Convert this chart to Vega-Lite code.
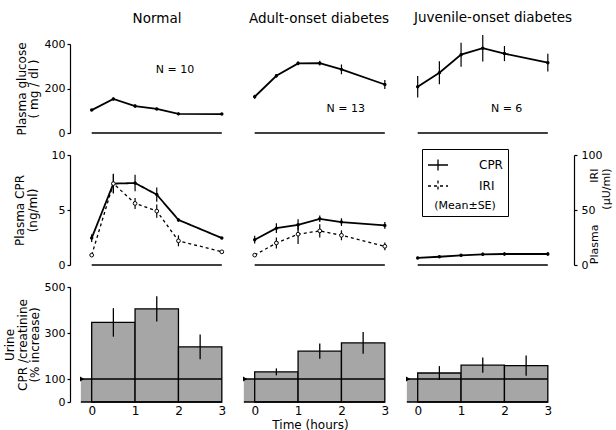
{
 "$schema": "https://vega.github.io/schema/vega-lite/v6.json",
 "autosize": "none",
 "padding": {"left": 70, "top": 44, "right": 546, "bottom": 386},
 "background": "white",
 "config": {
  "font": "DejaVu Sans",
  "view": {"stroke": null},
  "axis": {"grid": false, "domainColor": "black", "tickColor": "black", "labelColor": "black", "titleColor": "black", "labelFontSize": 11, "titleFontSize": 12, "titleFontWeight": "normal", "tickSize": 3, "domainWidth": 1.2, "tickWidth": 1.2, "labelPadding": 2, "titlePadding": 3.5, "titleLineHeight": 12.5, "labelOverlap": false},
  "title": {"fontSize": 13.5, "fontWeight": "normal", "color": "black", "anchor": "middle"}
 },
 "datasets": {
  "glucose": [
   {"g":"Normal","t":0,"v":103,"se":4},{"g":"Normal","t":0.5,"v":153,"se":6},{"g":"Normal","t":1,"v":121,"se":7},{"g":"Normal","t":1.5,"v":108,"se":5},{"g":"Normal","t":2,"v":86,"se":6},{"g":"Normal","t":3,"v":85,"se":4},
   {"g":"Adult","t":0,"v":163,"se":9},{"g":"Adult","t":0.5,"v":257,"se":8},{"g":"Adult","t":1,"v":313,"se":8},{"g":"Adult","t":1.5,"v":314,"se":11},{"g":"Adult","t":2,"v":286,"se":22},{"g":"Adult","t":3,"v":218,"se":20},
   {"g":"Juvenile","t":0,"v":208,"se":48},{"g":"Juvenile","t":0.5,"v":271,"se":52},{"g":"Juvenile","t":1,"v":352,"se":54},{"g":"Juvenile","t":1.5,"v":381,"se":60},{"g":"Juvenile","t":2,"v":357,"se":34},{"g":"Juvenile","t":3,"v":316,"se":40}
  ],
  "cpr": [
   {"g":"Normal","t":0,"v":2.45,"se":0.35},{"g":"Normal","t":0.5,"v":7.4,"se":0.85},{"g":"Normal","t":1,"v":7.45,"se":0.75},{"g":"Normal","t":1.5,"v":6.4,"se":0.65},{"g":"Normal","t":2,"v":4.1,"se":0.15},{"g":"Normal","t":3,"v":2.45,"se":0.1},
   {"g":"Adult","t":0,"v":2.3,"se":0.35},{"g":"Adult","t":0.5,"v":3.35,"se":0.45},{"g":"Adult","t":1,"v":3.65,"se":0.5},{"g":"Adult","t":1.5,"v":4.2,"se":0.3},{"g":"Adult","t":2,"v":3.9,"se":0.35},{"g":"Adult","t":3,"v":3.6,"se":0.3},
   {"g":"Juvenile","t":0,"v":0.64,"se":0.1},{"g":"Juvenile","t":0.5,"v":0.75,"se":0.1},{"g":"Juvenile","t":1,"v":0.88,"se":0.12},{"g":"Juvenile","t":1.5,"v":0.97,"se":0.15},{"g":"Juvenile","t":2,"v":1.0,"se":0.15},{"g":"Juvenile","t":3,"v":1.0,"se":0.15}
  ],
  "iri": [
   {"g":"Normal","t":0,"v":9,"se":1},{"g":"Normal","t":0.5,"v":74,"se":9},{"g":"Normal","t":1,"v":56,"se":5},{"g":"Normal","t":1.5,"v":49,"se":6},{"g":"Normal","t":2,"v":22,"se":5},{"g":"Normal","t":3,"v":12,"se":1},
   {"g":"Adult","t":0,"v":9,"se":1},{"g":"Adult","t":0.5,"v":20,"se":5},{"g":"Adult","t":1,"v":28,"se":9},{"g":"Adult","t":1.5,"v":31,"se":6},{"g":"Adult","t":2,"v":27,"se":4.5},{"g":"Adult","t":3,"v":17,"se":3.5}
  ],
  "urine": [
   {"g":"Normal","t0":0,"t1":1,"tm":0.5,"v":346,"se":62},{"g":"Normal","t0":1,"t1":2,"tm":1.5,"v":405,"se":55},{"g":"Normal","t0":2,"t1":3,"tm":2.5,"v":240,"se":54},
   {"g":"Adult","t0":0,"t1":1,"tm":0.5,"v":131,"se":15},{"g":"Adult","t0":1,"t1":2,"tm":1.5,"v":221,"se":33},{"g":"Adult","t0":2,"t1":3,"tm":2.5,"v":257,"se":47},
   {"g":"Juvenile","t0":0,"t1":1,"tm":0.5,"v":126,"se":30},{"g":"Juvenile","t0":1,"t1":2,"tm":1.5,"v":160,"se":33},{"g":"Juvenile","t0":2,"t1":3,"tm":2.5,"v":158,"se":44}
  ]
 },
 "bounds": "flush",
 "columns": 3,
 "spacing": {"row": 22, "column": 9},
 "resolve": {"scale": {"x": "independent", "y": "independent"}},
 "concat": [
  {
   "width": 154, "height": 89,
   "title": {"text": "Normal", "dx": 10, "offset": 12.5},
   "layer": [
    {"data": {"values": [{}]}, "mark": {"type": "rule", "strokeWidth": 1.3, "color": "black"}, "encoding": {"x": {"datum": 0, "scale": {"domain": [-0.5, 3.05]}, "axis": null}, "x2": {"datum": 3}, "y": {"datum": 0, "scale": {"domain": [0, 400]}, "axis": {"values": [0, 200, 400], "title": ["Plasma  glucose", "( mg / dl )"]}}}},
    {
     "data": {"name": "glucose"},
     "transform": [{"filter": "datum.g === 'Normal'"}],
     "encoding": {
      "x": {"field": "t", "type": "quantitative", "scale": {"domain": [-0.5, 3.05]}, "axis": null},
      "y": {"field": "v", "type": "quantitative", "scale": {"domain": [0, 400]}, "axis": {"values": [0, 200, 400], "title": ["Plasma  glucose", "( mg / dl )"]}}
     },
     "layer": [
      {"mark": {"type": "line", "color": "black", "strokeWidth": 1.8}},
      {"mark": {"type": "errorbar", "ticks": false, "color": "black", "thickness": 1.2}, "encoding": {"yError": {"field": "se"}}},
      {"mark": {"type": "point", "filled": true, "color": "black", "size": 12, "opacity": 1}}
     ]
    },
    {"data": {"values": [{}]}, "mark": {"type": "text", "fontSize": 11, "color": "black"}, "encoding": {"x": {"datum": 1.92, "scale": {"domain": [-0.5, 3.05]}, "axis": null}, "y": {"datum": 283, "scale": {"domain": [0, 400]}, "axis": {"values": [0, 200, 400], "title": ["Plasma  glucose", "( mg / dl )"]}}, "text": {"value": "N = 10"}}}
   ]
  },
  {
   "width": 154, "height": 89,
   "title": {"text": "Adult-onset diabetes", "dx": 9, "offset": 19},
   "layer": [
    {"data": {"values": [{}]}, "mark": {"type": "rule", "strokeWidth": 1.3, "color": "black"}, "encoding": {"x": {"datum": 0, "scale": {"domain": [-0.5, 3.05]}, "axis": null}, "x2": {"datum": 3}, "y": {"datum": 0, "scale": {"domain": [0, 400]}, "axis": null}}},
    {
     "data": {"name": "glucose"},
     "transform": [{"filter": "datum.g === 'Adult'"}],
     "encoding": {
      "x": {"field": "t", "type": "quantitative", "scale": {"domain": [-0.5, 3.05]}, "axis": null},
      "y": {"field": "v", "type": "quantitative", "scale": {"domain": [0, 400]}, "axis": null}
     },
     "layer": [
      {"mark": {"type": "line", "color": "black", "strokeWidth": 1.8}},
      {"mark": {"type": "errorbar", "ticks": false, "color": "black", "thickness": 1.2}, "encoding": {"yError": {"field": "se"}}},
      {"mark": {"type": "point", "filled": true, "color": "black", "size": 12, "opacity": 1}}
     ]
    },
    {"data": {"values": [{}]}, "mark": {"type": "text", "fontSize": 11, "color": "black"}, "encoding": {"x": {"datum": 2.1, "scale": {"domain": [-0.5, 3.05]}, "axis": null}, "y": {"datum": 108, "scale": {"domain": [0, 400]}, "axis": null}, "text": {"value": "N = 13"}}}
   ]
  },
  {
   "width": 154, "height": 89,
   "title": {"text": "Juvenile-onset diabetes", "dx": 20, "offset": 9.5},
   "layer": [
    {"data": {"values": [{}]}, "mark": {"type": "rule", "strokeWidth": 1.3, "color": "black"}, "encoding": {"x": {"datum": 0, "scale": {"domain": [-0.5, 3.05]}, "axis": null}, "x2": {"datum": 3}, "y": {"datum": 0, "scale": {"domain": [0, 400]}, "axis": null}}},
    {
     "data": {"name": "glucose"},
     "transform": [{"filter": "datum.g === 'Juvenile'"}],
     "encoding": {
      "x": {"field": "t", "type": "quantitative", "scale": {"domain": [-0.5, 3.05]}, "axis": null},
      "y": {"field": "v", "type": "quantitative", "scale": {"domain": [0, 400]}, "axis": null}
     },
     "layer": [
      {"mark": {"type": "line", "color": "black", "strokeWidth": 1.8}},
      {"mark": {"type": "errorbar", "ticks": false, "color": "black", "thickness": 1.2}, "encoding": {"yError": {"field": "se"}}},
      {"mark": {"type": "point", "filled": true, "color": "black", "size": 12, "opacity": 1}}
     ]
    },
    {"data": {"values": [{}]}, "mark": {"type": "text", "fontSize": 11, "color": "black"}, "encoding": {"x": {"datum": 2.05, "scale": {"domain": [-0.5, 3.05]}, "axis": null}, "y": {"datum": 108, "scale": {"domain": [0, 400]}, "axis": null}, "text": {"value": "N = 6"}}}
   ]
  },
  {
   "width": 154, "height": 110,
   "resolve": {"scale": {"y": "independent"}},
   "layer": [
    {
     "layer": [
      {"data": {"values": [{}]}, "mark": {"type": "rule", "strokeWidth": 1.3, "color": "black"}, "encoding": {"x": {"datum": 0, "scale": {"domain": [-0.5, 3.05]}, "axis": null}, "x2": {"datum": 3}, "y": {"datum": 0, "scale": {"domain": [0, 10]}, "axis": {"values": [0, 5, 10], "titlePadding": 12, "title": ["Plasma  CPR", "(ng/ml)"]}}}},
      {
       "data": {"name": "cpr"},
       "transform": [{"filter": "datum.g === 'Normal'"}],
       "encoding": {
        "x": {"field": "t", "type": "quantitative", "scale": {"domain": [-0.5, 3.05]}, "axis": null},
        "y": {"field": "v", "type": "quantitative", "scale": {"domain": [0, 10]}, "axis": {"values": [0, 5, 10], "titlePadding": 12, "title": ["Plasma  CPR", "(ng/ml)"]}}
       },
       "layer": [
        {"mark": {"type": "line", "color": "black", "strokeWidth": 1.8}, "encoding": {"strokeDash": {"datum": "CPR", "type": "nominal", "scale": {"domain": ["CPR", "IRI"], "range": [[1, 0], [3, 3]]}, "legend": {"orient": "none", "legendX": 352, "legendY": 105, "title": "(Mean±SE)", "titleOrient": "bottom", "titleFontSize": 11, "titleFontWeight": "normal", "titleColor": "black", "titleAnchor": "middle", "titlePadding": 6, "labelFontSize": 12, "labelColor": "black", "strokeColor": "black", "padding": 5, "symbolType": "M-1,0H1M0,-0.55V0.55", "symbolSize": 400, "symbolStrokeWidth": 1.3, "symbolStrokeColor": "black", "labelOffset": 30, "rowPadding": 1}}}},
        {"mark": {"type": "errorbar", "ticks": false, "color": "black", "thickness": 1.2}, "encoding": {"yError": {"field": "se"}}},
        {"mark": {"type": "point", "filled": true, "color": "black", "size": 12, "opacity": 1}}
       ]
      }
     ]
    },
    {
     "data": {"name": "iri"},
     "transform": [{"filter": "datum.g === 'Normal'"}],
     "encoding": {
      "x": {"field": "t", "type": "quantitative", "scale": {"domain": [-0.5, 3.05]}, "axis": null},
      "y": {"field": "v", "type": "quantitative", "scale": {"domain": [0, 100]}, "axis": null}
     },
     "layer": [
      {"mark": {"type": "line", "color": "black", "strokeWidth": 1.3}, "encoding": {"strokeDash": {"datum": "IRI", "type": "nominal"}}},
      {"mark": {"type": "errorbar", "ticks": false, "color": "black", "thickness": 1.2}, "encoding": {"yError": {"field": "se"}}},
      {"mark": {"type": "point", "shape": "circle", "filled": true, "fill": "white", "stroke": "black", "strokeWidth": 1, "size": 14, "opacity": 1}}
     ]
    }
   ]
  },
  {
   "width": 154, "height": 110,
   "resolve": {"scale": {"y": "independent"}},
   "layer": [
    {
     "layer": [
      {"data": {"values": [{}]}, "mark": {"type": "rule", "strokeWidth": 1.3, "color": "black"}, "encoding": {"x": {"datum": 0, "scale": {"domain": [-0.5, 3.05]}, "axis": null}, "x2": {"datum": 3}, "y": {"datum": 0, "scale": {"domain": [0, 10]}, "axis": null}}},
      {
       "data": {"name": "cpr"},
       "transform": [{"filter": "datum.g === 'Adult'"}],
       "encoding": {
        "x": {"field": "t", "type": "quantitative", "scale": {"domain": [-0.5, 3.05]}, "axis": null},
        "y": {"field": "v", "type": "quantitative", "scale": {"domain": [0, 10]}, "axis": null}
       },
       "layer": [
        {"mark": {"type": "line", "color": "black", "strokeWidth": 1.8}},
        {"mark": {"type": "errorbar", "ticks": false, "color": "black", "thickness": 1.2}, "encoding": {"yError": {"field": "se"}}},
        {"mark": {"type": "point", "filled": true, "color": "black", "size": 12, "opacity": 1}}
       ]
      }
     ]
    },
    {
     "data": {"name": "iri"},
     "transform": [{"filter": "datum.g === 'Adult'"}],
     "encoding": {
      "x": {"field": "t", "type": "quantitative", "scale": {"domain": [-0.5, 3.05]}, "axis": null},
      "y": {"field": "v", "type": "quantitative", "scale": {"domain": [0, 100]}, "axis": null}
     },
     "layer": [
      {"mark": {"type": "line", "color": "black", "strokeWidth": 1.3, "strokeDash": [3, 3]}},
      {"mark": {"type": "errorbar", "ticks": false, "color": "black", "thickness": 1.2}, "encoding": {"yError": {"field": "se"}}},
      {"mark": {"type": "point", "shape": "circle", "filled": true, "fill": "white", "stroke": "black", "strokeWidth": 1, "size": 14, "opacity": 1}}
     ]
    }
   ]
  },
  {
   "width": 154, "height": 110,
   "resolve": {"scale": {"y": "independent"}},
   "layer": [
    {
     "layer": [
      {"data": {"values": [{}]}, "mark": {"type": "rule", "strokeWidth": 1.3, "color": "black"}, "encoding": {"x": {"datum": 0, "scale": {"domain": [-0.5, 3.05]}, "axis": null}, "x2": {"datum": 3}, "y": {"datum": 0, "scale": {"domain": [0, 10]}, "axis": null}}},
      {
       "data": {"name": "cpr"},
       "transform": [{"filter": "datum.g === 'Juvenile'"}],
       "encoding": {
        "x": {"field": "t", "type": "quantitative", "scale": {"domain": [-0.5, 3.05]}, "axis": null},
        "y": {"field": "v", "type": "quantitative", "scale": {"domain": [0, 10]}, "axis": null}
       },
       "layer": [
        {"mark": {"type": "line", "color": "black", "strokeWidth": 1.8}},
        {"mark": {"type": "errorbar", "ticks": false, "color": "black", "thickness": 1.2}, "encoding": {"yError": {"field": "se"}}},
        {"mark": {"type": "point", "filled": true, "color": "black", "size": 12, "opacity": 1}}
       ]
      }
     ]
    },
    {
     "data": {"values": [{}]},
     "mark": {"type": "rule", "opacity": 0},
     "encoding": {"y": {"datum": 0, "type": "quantitative", "scale": {"domain": [0, 100]}, "axis": {"orient": "right", "values": [0, 50, 100], "offset": 24, "labelPadding": 4, "titleFontSize": 11, "title": ["Plasma\u00a0\u00a0\u00a0\u00a0\u00a0\u00a0\u00a0\u00a0\u00a0\u00a0\u00a0\u00a0IRI", "(µU/ml)"], "titleAngle": 270, "titleX": 20, "titleY": 13, "titleBaseline": "middle", "titleAlign": "right"}}}
    }
   ]
  },
  {
   "width": 154, "height": 115,
   "layer": [
    {"data": {"values": [{}]}, "mark": {"type": "rect", "fill": "#a6a6a6"}, "encoding": {"x": {"datum": -0.25, "scale": {"domain": [-0.5, 3.05]}, "axis": {"values": [0, 1, 2, 3], "domain": false, "ticks": false, "labelPadding": 3, "labelFontSize": 12, "title": null}}, "x2": {"datum": 3}, "y": {"datum": 0, "scale": {"domain": [0, 500]}, "axis": {"values": [0, 100, 300, 500], "titlePadding": 2.5, "title": ["Urine", "CPR /creatinine", "(% increase)"]}}, "y2": {"datum": 100}}},
    {
     "data": {"name": "urine"},
     "transform": [{"filter": "datum.g === 'Normal'"}],
     "encoding": {
      "x": {"field": "t0", "type": "quantitative", "scale": {"domain": [-0.5, 3.05]}, "axis": {"values": [0, 1, 2, 3], "domain": false, "ticks": false, "labelPadding": 3, "labelFontSize": 12, "title": null}},
      "y": {"field": "v", "type": "quantitative", "scale": {"domain": [0, 500]}, "axis": {"values": [0, 100, 300, 500], "titlePadding": 2.5, "title": ["Urine", "CPR /creatinine", "(% increase)"]}}
     },
     "layer": [
      {"mark": {"type": "rect", "fill": "#a6a6a6", "stroke": "black", "strokeWidth": 1.3}, "encoding": {"x2": {"field": "t1"}, "y2": {"datum": 0}}},
      {"mark": {"type": "errorbar", "ticks": false, "color": "black", "thickness": 1.3}, "encoding": {"x": {"field": "tm", "type": "quantitative", "scale": {"domain": [-0.5, 3.05]}, "axis": {"values": [0, 1, 2, 3], "domain": false, "ticks": false, "labelPadding": 3, "labelFontSize": 12, "title": null}}, "yError": {"field": "se"}}}
     ]
    },
    {"data": {"values": [{}]}, "mark": {"type": "rule", "strokeWidth": 1.4, "color": "black"}, "encoding": {"x": {"datum": -0.25, "scale": {"domain": [-0.5, 3.05]}, "axis": {"values": [0, 1, 2, 3], "domain": false, "ticks": false, "labelPadding": 3, "labelFontSize": 12, "title": null}}, "x2": {"datum": 3}, "y": {"datum": 100, "scale": {"domain": [0, 500]}, "axis": {"values": [0, 100, 300, 500], "titlePadding": 2.5, "title": ["Urine", "CPR /creatinine", "(% increase)"]}}}},
    {"data": {"values": [{}]}, "mark": {"type": "rule", "strokeWidth": 1.4, "color": "black"}, "encoding": {"x": {"datum": -0.25, "scale": {"domain": [-0.5, 3.05]}, "axis": {"values": [0, 1, 2, 3], "domain": false, "ticks": false, "labelPadding": 3, "labelFontSize": 12, "title": null}}, "x2": {"datum": 3}, "y": {"datum": 0, "scale": {"domain": [0, 500]}, "axis": {"values": [0, 100, 300, 500], "titlePadding": 2.5, "title": ["Urine", "CPR /creatinine", "(% increase)"]}}}},
    {"data": {"values": [{}]}, "mark": {"type": "point", "shape": "triangle-right", "filled": true, "color": "black", "size": 25, "opacity": 1}, "encoding": {"x": {"datum": -0.22, "scale": {"domain": [-0.5, 3.05]}, "axis": {"values": [0, 1, 2, 3], "domain": false, "ticks": false, "labelPadding": 3, "labelFontSize": 12, "title": null}}, "y": {"datum": 100, "scale": {"domain": [0, 500]}, "axis": {"values": [0, 100, 300, 500], "titlePadding": 2.5, "title": ["Urine", "CPR /creatinine", "(% increase)"]}}}}
   ]
  },
  {
   "width": 154, "height": 115,
   "layer": [
    {"data": {"values": [{}]}, "mark": {"type": "rect", "fill": "#a6a6a6"}, "encoding": {"x": {"datum": -0.25, "scale": {"domain": [-0.5, 3.05]}}, "x2": {"datum": 3}, "y": {"datum": 0, "scale": {"domain": [0, 500]}, "axis": null}, "y2": {"datum": 100}}},
    {
     "data": {"name": "urine"},
     "transform": [{"filter": "datum.g === 'Adult'"}],
     "encoding": {
      "x": {"field": "t0", "type": "quantitative", "scale": {"domain": [-0.5, 3.05]}, "axis": {"values": [0, 1, 2, 3], "domain": false, "ticks": false, "labelPadding": 3, "labelFontSize": 12, "title": "Time  (hours)", "titleFontSize": 12, "titlePadding": 3}},
      "y": {"field": "v", "type": "quantitative", "scale": {"domain": [0, 500]}, "axis": null}
     },
     "layer": [
      {"mark": {"type": "rect", "fill": "#a6a6a6", "stroke": "black", "strokeWidth": 1.3}, "encoding": {"x2": {"field": "t1"}, "y2": {"datum": 0}}},
      {"mark": {"type": "errorbar", "ticks": false, "color": "black", "thickness": 1.3}, "encoding": {"x": {"field": "tm", "type": "quantitative", "scale": {"domain": [-0.5, 3.05]}, "axis": {"values": [0, 1, 2, 3], "domain": false, "ticks": false, "labelPadding": 3, "labelFontSize": 12, "title": "Time  (hours)", "titleFontSize": 12, "titlePadding": 3}}, "yError": {"field": "se"}}}
     ]
    },
    {"data": {"values": [{}]}, "mark": {"type": "rule", "strokeWidth": 1.4, "color": "black"}, "encoding": {"x": {"datum": -0.25, "scale": {"domain": [-0.5, 3.05]}}, "x2": {"datum": 3}, "y": {"datum": 100, "scale": {"domain": [0, 500]}, "axis": null}}},
    {"data": {"values": [{}]}, "mark": {"type": "rule", "strokeWidth": 1.4, "color": "black"}, "encoding": {"x": {"datum": -0.25, "scale": {"domain": [-0.5, 3.05]}}, "x2": {"datum": 3}, "y": {"datum": 0, "scale": {"domain": [0, 500]}, "axis": null}}},
    {"data": {"values": [{}]}, "mark": {"type": "point", "shape": "triangle-right", "filled": true, "color": "black", "size": 25, "opacity": 1}, "encoding": {"x": {"datum": -0.22, "scale": {"domain": [-0.5, 3.05]}}, "y": {"datum": 100, "scale": {"domain": [0, 500]}, "axis": null}}}
   ]
  },
  {
   "width": 154, "height": 115,
   "layer": [
    {"data": {"values": [{}]}, "mark": {"type": "rect", "fill": "#a6a6a6"}, "encoding": {"x": {"datum": -0.25, "scale": {"domain": [-0.5, 3.05]}}, "x2": {"datum": 3}, "y": {"datum": 0, "scale": {"domain": [0, 500]}, "axis": null}, "y2": {"datum": 100}}},
    {
     "data": {"name": "urine"},
     "transform": [{"filter": "datum.g === 'Juvenile'"}],
     "encoding": {
      "x": {"field": "t0", "type": "quantitative", "scale": {"domain": [-0.5, 3.05]}, "axis": {"values": [0, 1, 2, 3], "domain": false, "ticks": false, "labelPadding": 3, "labelFontSize": 12, "title": null}},
      "y": {"field": "v", "type": "quantitative", "scale": {"domain": [0, 500]}, "axis": null}
     },
     "layer": [
      {"mark": {"type": "rect", "fill": "#a6a6a6", "stroke": "black", "strokeWidth": 1.3}, "encoding": {"x2": {"field": "t1"}, "y2": {"datum": 0}}},
      {"mark": {"type": "errorbar", "ticks": false, "color": "black", "thickness": 1.3}, "encoding": {"x": {"field": "tm", "type": "quantitative", "scale": {"domain": [-0.5, 3.05]}, "axis": {"values": [0, 1, 2, 3], "domain": false, "ticks": false, "labelPadding": 3, "labelFontSize": 12, "title": null}}, "yError": {"field": "se"}}}
     ]
    },
    {"data": {"values": [{}]}, "mark": {"type": "rule", "strokeWidth": 1.4, "color": "black"}, "encoding": {"x": {"datum": -0.25, "scale": {"domain": [-0.5, 3.05]}}, "x2": {"datum": 3}, "y": {"datum": 100, "scale": {"domain": [0, 500]}, "axis": null}}},
    {"data": {"values": [{}]}, "mark": {"type": "rule", "strokeWidth": 1.4, "color": "black"}, "encoding": {"x": {"datum": -0.25, "scale": {"domain": [-0.5, 3.05]}}, "x2": {"datum": 3}, "y": {"datum": 0, "scale": {"domain": [0, 500]}, "axis": null}}},
    {"data": {"values": [{}]}, "mark": {"type": "point", "shape": "triangle-right", "filled": true, "color": "black", "size": 25, "opacity": 1}, "encoding": {"x": {"datum": -0.22, "scale": {"domain": [-0.5, 3.05]}}, "y": {"datum": 100, "scale": {"domain": [0, 500]}, "axis": null}}}
   ]
  }
 ]
}
